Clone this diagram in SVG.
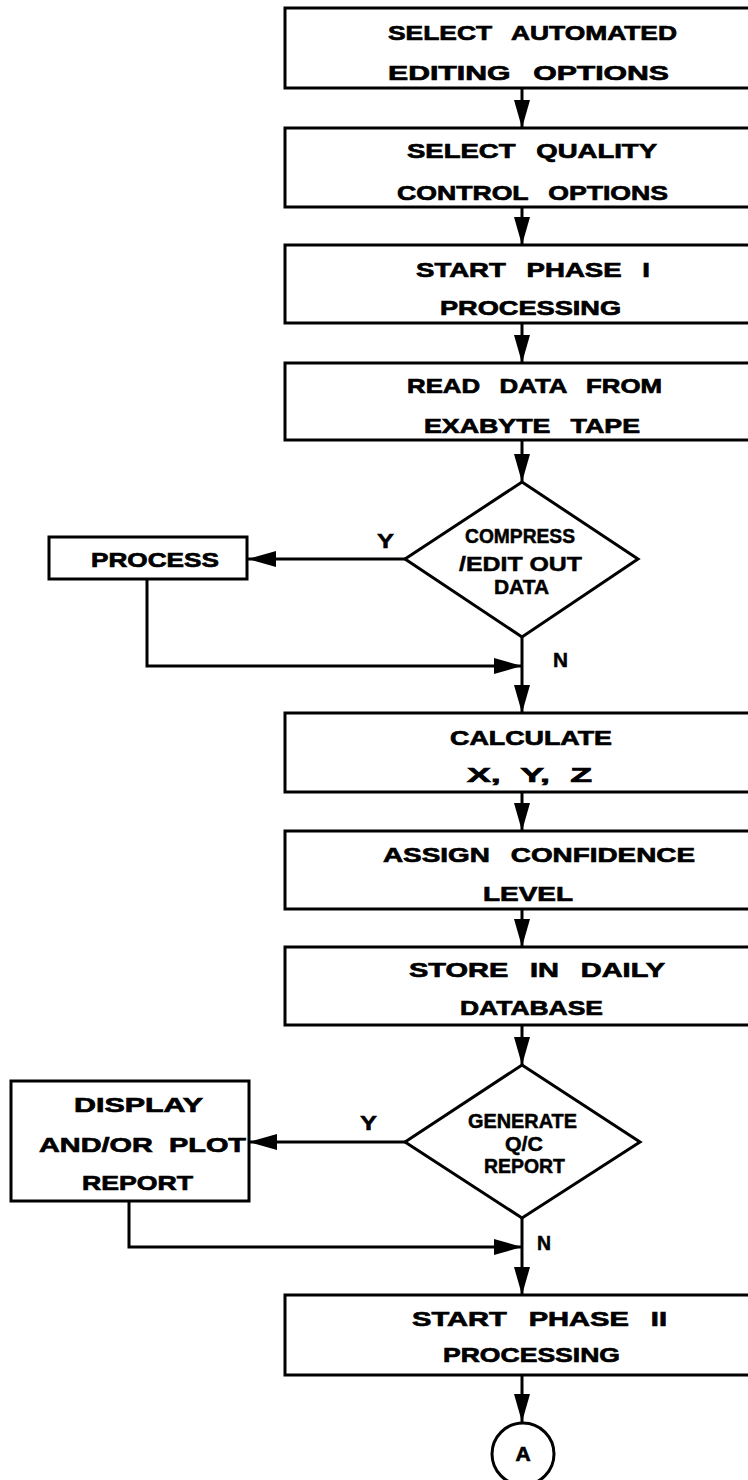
<svg xmlns="http://www.w3.org/2000/svg" width="748" height="1480" viewBox="0 0 748 1480">
  <style>
    .box { fill: #fff; stroke: #000; stroke-width: 3; }
    .lbl { font-family: "Liberation Sans", Arial, sans-serif; font-weight: bold; font-size: 21px; fill: #000; stroke: #000; stroke-width: 0.7; }
    .dlbl { font-family: "Liberation Sans", Arial, sans-serif; font-weight: bold; font-size: 20px; fill: #000; stroke: #000; stroke-width: 0.5; }
    .yn { font-family: "Liberation Sans", Arial, sans-serif; font-weight: bold; font-size: 21px; fill: #000; stroke: #000; stroke-width: 0.5; }
    .wire { fill: none; stroke: #000; stroke-width: 3; }
  </style>
  <defs>
    <marker id="arrow" viewBox="0 0 28 16" refX="28" refY="8" markerWidth="28" markerHeight="16" markerUnits="userSpaceOnUse" orient="auto">
      <path d="M0,0 L28,8 L0,16 Z" fill="#000"/>
    </marker>
  </defs>

  <rect width="748" height="1480" fill="#fff"/>

  <!-- connectors -->
  <g id="connectors">
    <path class="wire" d="M522,88 V128" marker-end="url(#arrow)"/>
    <path class="wire" d="M522,207 V245" marker-end="url(#arrow)"/>
    <path class="wire" d="M522,323 V363" marker-end="url(#arrow)"/>
    <path class="wire" d="M522,440 V482" marker-end="url(#arrow)"/>
    <path class="wire" d="M405,559 H248" marker-end="url(#arrow)"/>
    <path class="wire" d="M147,579 V666 H522" marker-end="url(#arrow)"/>
    <path class="wire" d="M522,637 V713" marker-end="url(#arrow)"/>
    <path class="wire" d="M522,792 V831" marker-end="url(#arrow)"/>
    <path class="wire" d="M522,909 V947" marker-end="url(#arrow)"/>
    <path class="wire" d="M522,1025 V1065" marker-end="url(#arrow)"/>
    <path class="wire" d="M405,1142 H249" marker-end="url(#arrow)"/>
    <path class="wire" d="M129,1201 V1247 H522" marker-end="url(#arrow)"/>
    <path class="wire" d="M522,1218 V1295" marker-end="url(#arrow)"/>
    <path class="wire" d="M522,1375 V1422" marker-end="url(#arrow)"/>
    <text class="yn" x="377" y="548" textLength="17" lengthAdjust="spacingAndGlyphs">Y</text>
    <text class="yn" x="553" y="667" textLength="15" lengthAdjust="spacingAndGlyphs">N</text>
    <text class="yn" x="360" y="1130" textLength="17" lengthAdjust="spacingAndGlyphs">Y</text>
    <text class="yn" x="537" y="1250" textLength="14" lengthAdjust="spacingAndGlyphs">N</text>
  </g>

  <g id="select-editing">
    <rect class="box" x="285" y="8" width="480" height="80"/>
    <text class="lbl" x="388" y="40" textLength="289" lengthAdjust="spacingAndGlyphs" word-spacing="10">SELECT AUTOMATED</text>
    <text class="lbl" x="388" y="80" textLength="281" lengthAdjust="spacingAndGlyphs" word-spacing="10">EDITING OPTIONS</text>
  </g>

  <g id="select-qc">
    <rect class="box" x="285" y="128" width="480" height="79"/>
    <text class="lbl" x="407" y="158" textLength="250" lengthAdjust="spacingAndGlyphs" word-spacing="10">SELECT QUALITY</text>
    <text class="lbl" x="397" y="200" textLength="271" lengthAdjust="spacingAndGlyphs" word-spacing="10">CONTROL OPTIONS</text>
  </g>

  <g id="start-phase-1">
    <rect class="box" x="285" y="245" width="480" height="78"/>
    <text class="lbl" x="416" y="277" textLength="234" lengthAdjust="spacingAndGlyphs" word-spacing="10">START PHASE I</text>
    <text class="lbl" x="440" y="315" textLength="181" lengthAdjust="spacingAndGlyphs">PROCESSING</text>
  </g>

  <g id="read-data">
    <rect class="box" x="285" y="363" width="480" height="77"/>
    <text class="lbl" x="407" y="393" textLength="255" lengthAdjust="spacingAndGlyphs" word-spacing="10">READ DATA FROM</text>
    <text class="lbl" x="424" y="433" textLength="216" lengthAdjust="spacingAndGlyphs" word-spacing="10">EXABYTE TAPE</text>
  </g>

  <g id="compress-decision">
    <polygon class="box" points="522,482 638,559 522,637 405,559"/>
    <text class="dlbl" x="465" y="543" textLength="110" lengthAdjust="spacingAndGlyphs">COMPRESS</text>
    <text class="dlbl" x="459" y="571" textLength="123" lengthAdjust="spacingAndGlyphs">/EDIT OUT</text>
    <text class="dlbl" x="494" y="594" textLength="55" lengthAdjust="spacingAndGlyphs">DATA</text>
  </g>

  <g id="process">
    <rect class="box" x="49" y="537" width="198" height="42"/>
    <text class="lbl" x="91" y="567" textLength="128" lengthAdjust="spacingAndGlyphs">PROCESS</text>
  </g>

  <g id="calculate">
    <rect class="box" x="285" y="713" width="480" height="79"/>
    <text class="lbl" x="450" y="745" textLength="162" lengthAdjust="spacingAndGlyphs">CALCULATE</text>
    <text class="lbl" x="467" y="782" textLength="125" lengthAdjust="spacingAndGlyphs" word-spacing="6">X, Y, Z</text>
  </g>

  <g id="assign-confidence">
    <rect class="box" x="285" y="831" width="480" height="78"/>
    <text class="lbl" x="383" y="862" textLength="312" lengthAdjust="spacingAndGlyphs" word-spacing="10">ASSIGN CONFIDENCE</text>
    <text class="lbl" x="483" y="901" textLength="90" lengthAdjust="spacingAndGlyphs">LEVEL</text>
  </g>

  <g id="store-daily">
    <rect class="box" x="285" y="947" width="480" height="78"/>
    <text class="lbl" x="409" y="977" textLength="256" lengthAdjust="spacingAndGlyphs" word-spacing="10">STORE IN DAILY</text>
    <text class="lbl" x="460" y="1015" textLength="143" lengthAdjust="spacingAndGlyphs">DATABASE</text>
  </g>

  <g id="qc-decision">
    <polygon class="box" points="522,1065 640,1142 522,1218 405,1142"/>
    <text class="dlbl" x="468" y="1128" textLength="109" lengthAdjust="spacingAndGlyphs">GENERATE</text>
    <text class="dlbl" x="505" y="1151" font-size="15" textLength="38" lengthAdjust="spacingAndGlyphs">Q/C</text>
    <text class="dlbl" x="484" y="1173" textLength="81" lengthAdjust="spacingAndGlyphs">REPORT</text>
  </g>

  <g id="display-plot">
    <rect class="box" x="11" y="1081" width="238" height="120"/>
    <text class="lbl" x="74" y="1112" textLength="129" lengthAdjust="spacingAndGlyphs">DISPLAY</text>
    <text class="lbl" x="39" y="1152" textLength="207" lengthAdjust="spacingAndGlyphs" word-spacing="6">AND/OR PLOT</text>
    <text class="lbl" x="82" y="1190" textLength="111" lengthAdjust="spacingAndGlyphs">REPORT</text>
  </g>

  <g id="start-phase-2">
    <rect class="box" x="285" y="1295" width="480" height="80"/>
    <text class="lbl" x="412" y="1326" textLength="255" lengthAdjust="spacingAndGlyphs" word-spacing="10">START PHASE II</text>
    <text class="lbl" x="443" y="1362" textLength="177" lengthAdjust="spacingAndGlyphs">PROCESSING</text>
  </g>

  <g id="connector-a">
    <circle class="box" cx="523" cy="1454" r="31"/>
    <text class="lbl" x="523" y="1461" text-anchor="middle" font-size="20">A</text>
  </g>
</svg>
